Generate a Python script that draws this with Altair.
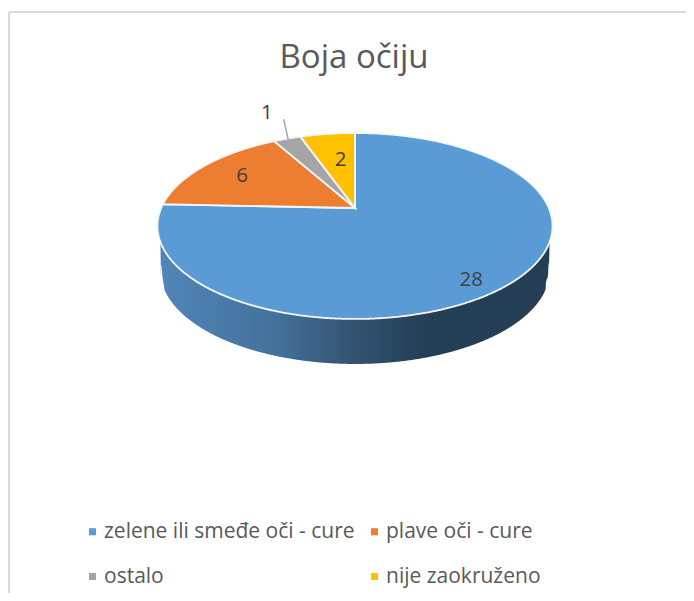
import numpy as np
import pandas as pd
import altair as alt

categories = ["zelene ili smeđe oči - cure", "plave oči - cure", "ostalo", "nije zaokruženo"]
values = [28, 6, 1, 2]
colors = ["#5b9bd5", "#ed7d31", "#a5a5a5", "#ffc000"]
title_text = "Boja očiju"

W, H = 678, 585
FONT = "Open Sans"
CX, CY = 355.0, 208.0   # pie apex in page pixels
R, A, K = 193.8, 89.5, 0.1935
DEPTH = 45.0
BOTTOM_SCALE = 194.5 / 197.5
# radial factor and angular nudge of each data label
LABEL_R = [0.87, 0.735, 1.45, 0.60]
LABEL_SHIFT = [0.02, 0.0, 0.003, 0.005]


def project(frac, r=1.0):
    """Fraction of the circle (clockwise from top) to the tilted disc."""
    t = 2 * np.pi * np.asarray(frac, dtype=float)
    u, v = r * np.sin(t), r * np.cos(t)
    d = 1 + K * v
    return CX + R * u / d, CY - A * v / d


xs = alt.X("x:Q", scale=alt.Scale(domain=[8, 8 + W], nice=False, zero=False), axis=None)
ys = alt.Y("y:Q", scale=alt.Scale(domain=[8 + H, 8], nice=False, zero=False), axis=None)

total = sum(values)
cum = np.concatenate([[0], np.cumsum(values)]) / total

# chart frame (left and top edges)
frame = [
    alt.Chart(pd.DataFrame({"x": [9, 9], "y": [593, 12]})).mark_line(color="#d9d9d9", strokeWidth=2).encode(x=xs, y=ys),
    alt.Chart(pd.DataFrame({"x": [9, 686], "y": [12, 12]})).mark_line(color="#d9d9d9", strokeWidth=2).encode(x=xs, y=ys),
]

# side wall
f = np.linspace(0.25, 0.75, 721)
tx, ty = project(f)
bx = CX + 0.5 + (tx - CX - 0.5) * BOTTOM_SCALE
by = ty + DEPTH
grid = np.linspace(tx.min(), tx.max(), 800)
o1, o2 = np.argsort(tx), np.argsort(bx)
top_y = np.interp(grid, tx[o1], ty[o1])
bot_y = np.interp(grid, bx[o2], by[o2], left=np.nan, right=np.nan)
bot_y = np.where(np.isnan(bot_y), top_y, np.maximum(bot_y, top_y))
wall = alt.Chart(pd.DataFrame({"x": grid, "y": top_y, "y2": bot_y})).mark_area(
    color=alt.Gradient(
        gradient="linear", x1=0, x2=1, y1=0, y2=0,
        stops=[
            alt.GradientStop(color="#5086b8", offset=0),
            alt.GradientStop(color="#44719b", offset=0.3),
            alt.GradientStop(color="#335270", offset=0.5),
            alt.GradientStop(color="#243f55", offset=0.68),
            alt.GradientStop(color="#243f55", offset=1),
        ],
    )
).encode(x=xs, y=ys, y2="y2:Q")

layers = frame + [wall]

# top slices
for i, name in enumerate(categories):
    n = max(3, int(values[i] * 24))
    fr = np.linspace(cum[i], cum[i + 1], n)
    px, py = project(fr)
    d = pd.DataFrame({
        "x": np.concatenate([[CX], px]),
        "y": np.concatenate([[CY], py]),
        "o": np.arange(n + 1),
    })
    layers.append(
        alt.Chart(d).mark_line(
            fill=colors[i], stroke="#f4f6f8", strokeWidth=1.8,
            interpolate="linear-closed",
        ).encode(x=xs, y=ys, order="o:Q")
    )

# leader line for the small slice
mid = [(cum[i] + cum[i + 1]) / 2 for i in range(4)]
lx0, ly0 = project(mid[2], 0.98)
lx1, ly1 = project(mid[2] + 0.011, 1.31)
layers.append(
    alt.Chart(pd.DataFrame({"x": [lx0, lx1], "y": [ly0, ly1]}))
    .mark_line(color="#a6a6a6", strokeWidth=1.5)
    .encode(x=xs, y=ys)
)

# data labels
lp = [project(m + s, r) for m, s, r in zip(mid, LABEL_SHIFT, LABEL_R)]
labels = pd.DataFrame({"x": [p[0] for p in lp], "y": [p[1] for p in lp], "t": [str(v) for v in values]})
layers.append(
    alt.Chart(labels).mark_text(font=FONT, fontSize=20.5, color="#404040")
    .encode(x=xs, y=ys, text="t:N")
)

# title
layers.append(
    alt.Chart(pd.DataFrame({"x": [354], "y": [58], "t": [title_text]}))
    .mark_text(font=FONT, fontSize=33, color="#595959")
    .encode(x=xs, y=ys, text="t:N")
)

# legend carrier; vega fills legend columns first, so this order reads row by row
legend_order = [0, 2, 1, 3]
legend_df = pd.DataFrame({"c": categories, "x": [CX] * 4, "y": [CY] * 4})
layers.append(
    alt.Chart(legend_df).mark_point(filled=True, size=0, opacity=1).encode(
        x=xs, y=ys,
        color=alt.Color(
            "c:N",
            scale=alt.Scale(
                domain=[categories[i] for i in legend_order],
                range=[colors[i] for i in legend_order],
            ),
            legend=alt.Legend(
                title=None, orient="none", legendX=74, legendY=513, columns=2,
                symbolType="square", symbolSize=50, symbolOpacity=1,
                labelFont=FONT, labelFontSize=21, labelColor="#595959", labelOffset=1,
                labelLimit=400, rowPadding=23, columnPadding=9,
            ),
        ),
    )
)

chart = alt.layer(*layers).properties(
    width=W, height=H, padding=0, autosize=alt.AutoSizeParams(type="none"),
    background="white",
).configure_view(stroke=None)

chart.save("out.html", embed_options={"renderer": "svg", "actions": False})
